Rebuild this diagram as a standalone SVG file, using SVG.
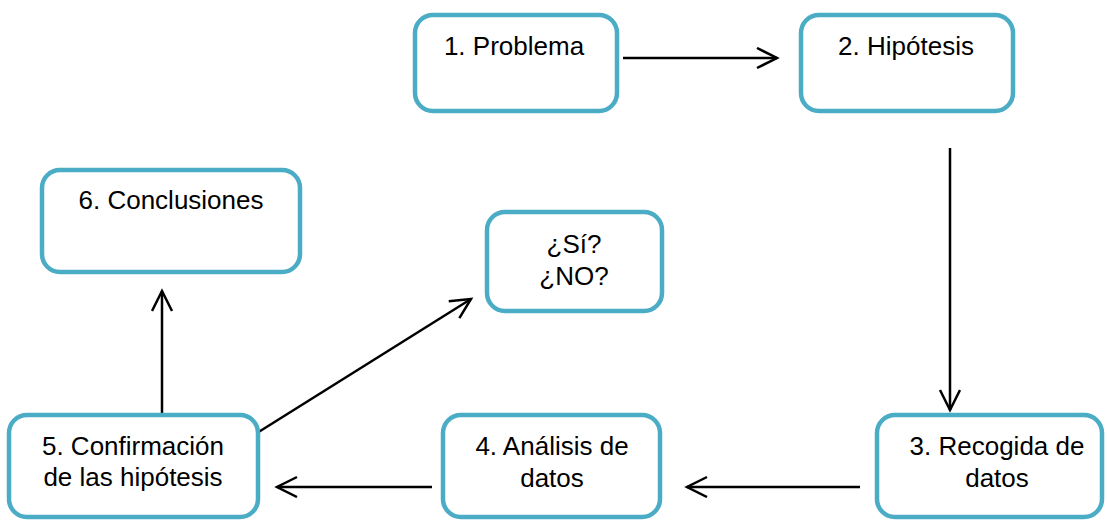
<svg xmlns="http://www.w3.org/2000/svg" width="1107" height="523" viewBox="0 0 1107 523">
<style>
.box{fill:#fff;stroke:#4BACC6;stroke-width:4.5}
.t{font-family:"Liberation Sans",Arial,sans-serif;font-size:26px;fill:#000;text-anchor:middle}
.c{stroke:#000;stroke-width:2.5;fill:none;marker-end:url(#ah)}
</style>
<defs>
<marker id="ah" markerUnits="userSpaceOnUse" markerWidth="26" markerHeight="26" refX="22" refY="11" orient="auto">
<path d="M2,1 L22,11 L2,21" fill="none" stroke="#000" stroke-width="2.5"/>
</marker>
</defs>
<g id="connectors">
<line class="c" x1="623" y1="58" x2="777" y2="58"/>
<line class="c" x1="950" y1="148" x2="950" y2="410"/>
<line class="c" x1="860" y1="487" x2="687" y2="487"/>
<line class="c" x1="432" y1="487" x2="277" y2="487"/>
<line class="c" x1="162" y1="413" x2="162" y2="291"/>
<line class="c" x1="257" y1="433" x2="471" y2="299"/>
</g>
<g id="n1"><rect class="box" x="415" y="15" width="202" height="96" rx="18"/><text class="t" x="514" y="55">1. Problema</text></g>
<g id="n2"><rect class="box" x="801" y="15" width="212" height="96" rx="18"/><text class="t" x="906" y="55">2. Hipótesis</text></g>
<g id="n3"><rect class="box" x="877" y="415" width="225" height="102" rx="18"/><text class="t" x="997" y="455">3. Recogida de</text><text class="t" x="997" y="487">datos</text></g>
<g id="n4"><rect class="box" x="443" y="415" width="217" height="102" rx="18"/><text class="t" x="552" y="455">4. Análisis de</text><text class="t" x="552" y="487">datos</text></g>
<g id="n5"><rect class="box" x="9" y="415" width="249" height="102" rx="18"/><text class="t" x="133" y="455">5. Confirmación</text><text class="t" x="133" y="486">de las hipótesis</text></g>
<g id="n6"><rect class="box" x="42" y="170" width="258" height="102" rx="18"/><text class="t" x="171" y="209">6. Conclusiones</text></g>
<g id="n7"><rect class="box" x="487" y="212" width="175" height="99" rx="18"/><text class="t" x="574" y="253">¿Sí?</text><text class="t" x="574" y="285">¿NO?</text></g>
</svg>
